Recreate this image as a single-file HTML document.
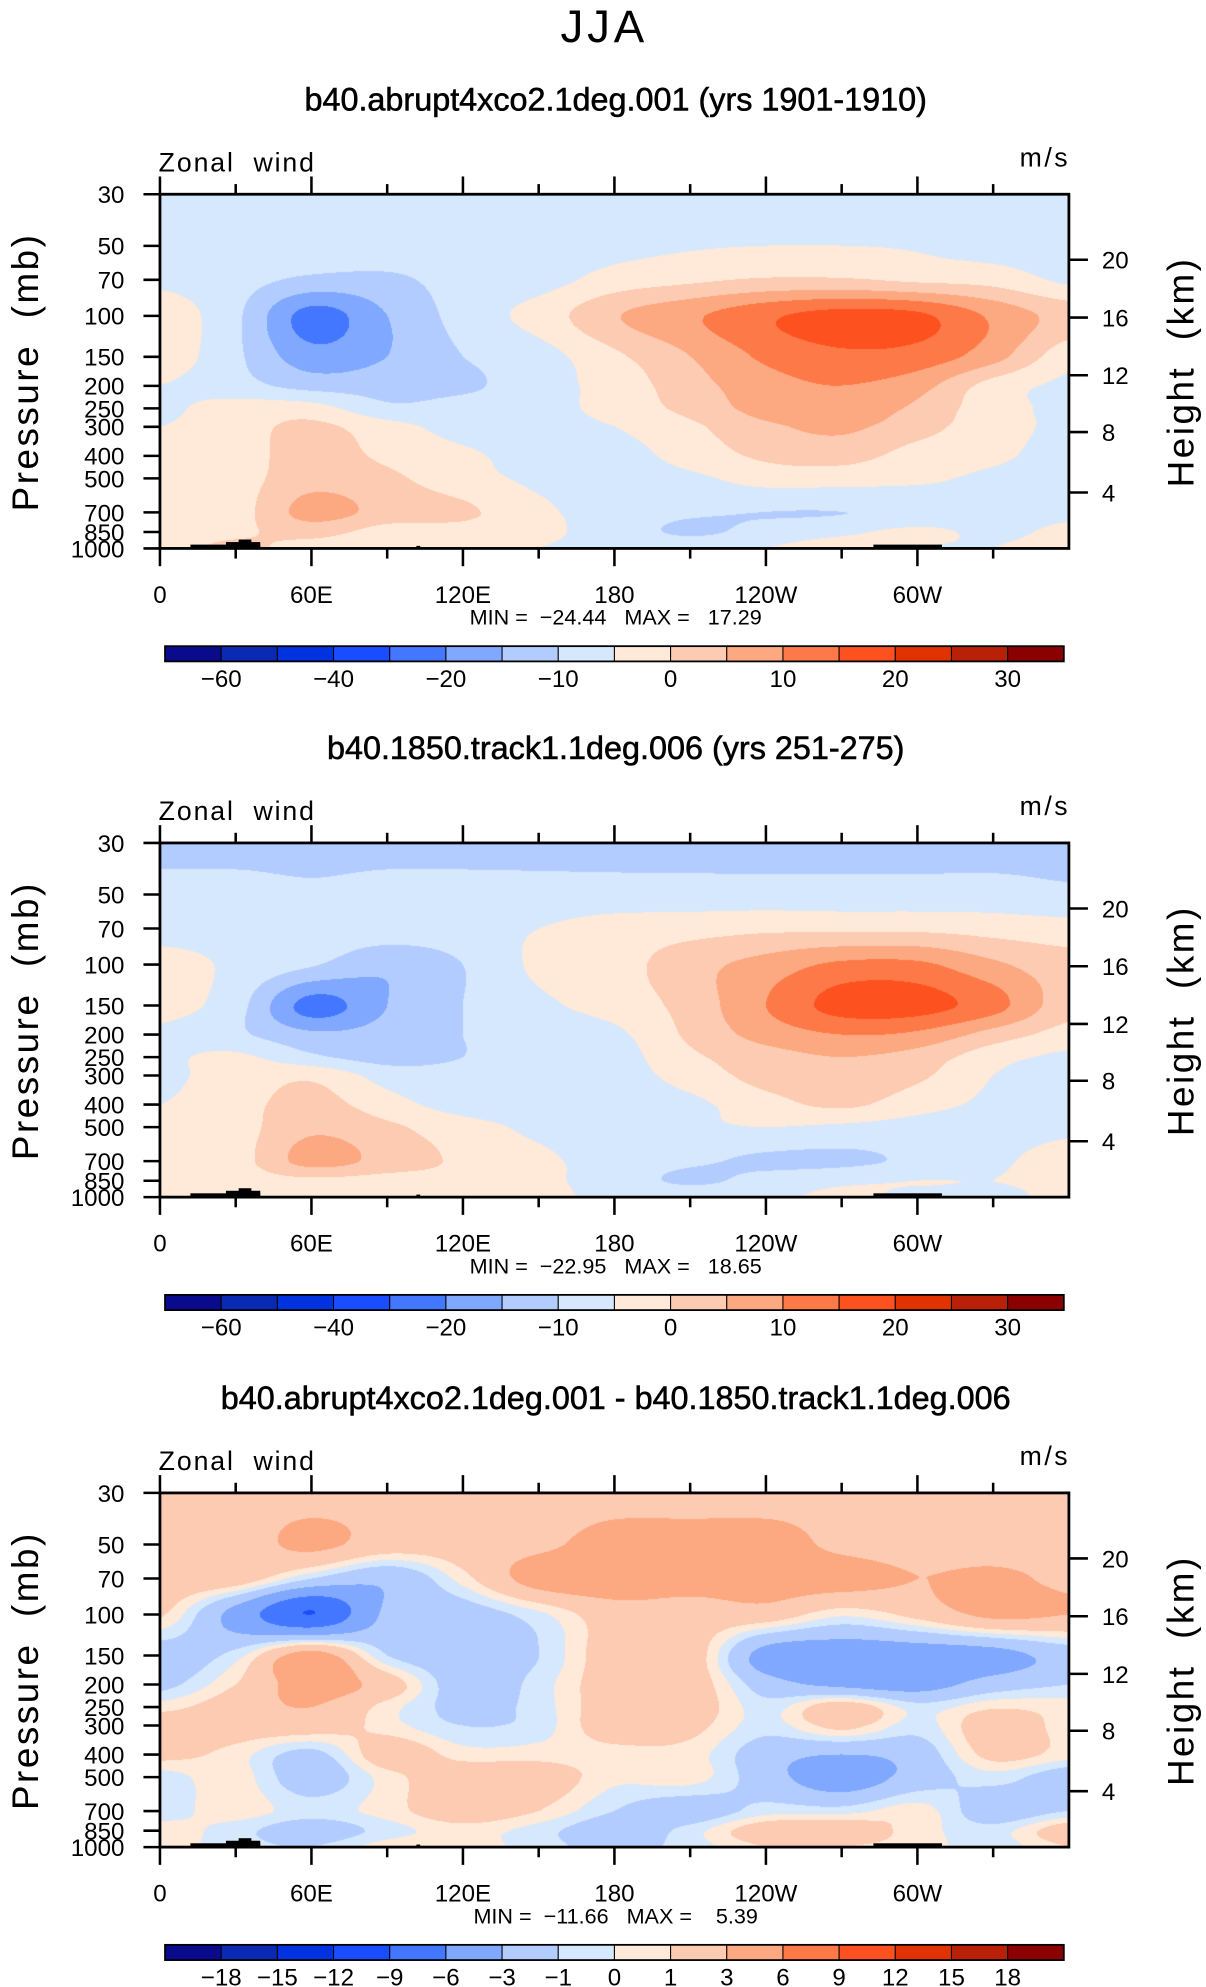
<!DOCTYPE html>
<html><head><meta charset="utf-8">
<style>
html,body{margin:0;padding:0;background:#fff;}
#wrap{position:relative;width:1206px;height:1987px;overflow:hidden;}
canvas{position:absolute;}
svg{position:absolute;left:0;top:0;}
text{font-family:"Liberation Sans",sans-serif;fill:#000;white-space:pre;}
</style></head>
<body>
<div id="wrap">
<canvas id="c1"></canvas>
<canvas id="c2"></canvas>
<canvas id="c3"></canvas>
<svg id="ov" width="1206" height="1987" viewBox="0 0 950 1565.2"></svg>
</div>
<script>
// ---- data ----
const lons = [0,30,60,90,120,150,180,210,240,270,300,330,360];
const pLevels = [30,50,70,100,150,200,250,300,400,500,700,850,1000];
const lonTickLabels = ["0","60E","120E","180","120W","60W"];
const lonTickValues = [0,60,120,180,240,300];
const heightTicks = [20,16,12,8,4];
const heightTickP = [57.4,101.7,180,316,520];

const levels12 = [-60,-50,-40,-30,-20,-15,-10,-5,0,5,10,15,20,25,30];
const barLabels12 = ["-60","-40","-20","-10","0","10","20","30"];
const levels3 = [-18,-15,-12,-9,-6,-3,-1,0,1,3,6,9,12,15,18];
const barLabels3 = ["-18","-15","-12","-9","-6","-3","-1","0","1","3","6","9","12","15","18"];
const palette = ["#0a0a8c","#0a2ab4","#0033e0","#1a4dff","#4477ff","#80a8ff","#b3ccff","#d6e8fd","#ffe9d8","#fdcab2","#fca880","#fd7a48","#fe5120","#e03300","#b82008","#8b0000"];

// rows = pressure levels, cols = longitudes
const field1 = [
[-7,-7,-7,-7,-7,-7,-7,-7,-7,-7,-7,-7,-7],
[-7,-7,-7,-7,-7,-7,-6.5,-5.5,-5,-5,-5.5,-7,-7],
[-6,-8,-11,-11,-8,-7,-3,-1,0.5,0.5,-1,-2,-6],
[-2,-9,-22,-15,-8,-3,4.5,9,14,17,16,9,3],
[-2,-9,-18,-15,-10,-7,-1,5,11,14,13,7,-3],
[-5,-8,-12,-12,-11,-7,-3,3,8,10,7,-2,-6],
[-6,-3,-3,-9,-8,-7,-3,1.5,7,8,4,-3,-6],
[-5,-2,1,-3,-7,-7,-5,-1,4,6,2,-3,-6],
[-3,-2,2,-1,-4,-7,-7,-3,1,2,-2,-4,-7],
[-3,-2,3,1,-3,-6,-7,-6,-3,-3,-4,-6,-7],
[-3,-2,7,3,1,-4,-7,-9,-10,-10,-9,-7,-6],
[-2,-1,2,-2,-2,-4,-7,-11,-8,-6,-4,-6,-4],
[-2,1,-2,-3,-4,-5,-6,-6,-5,-3,-5,-5,-3]];
const field2 = [
[-12,-12,-12,-12,-12,-12,-12,-12,-12,-12,-12,-12,-12],
[-8,-8,-9,-8,-8,-8,-8,-8,-8,-8,-8,-8,-9],
[-7,-7,-7,-7,-7,-5,-3,-2,-1,-1,-1,-2,-3],
[-3,-6,-9.5,-14,-10,-4,-2,3,7,11,11,6,2],
[-3,-8,-22,-15,-10,-6,-3,2,10,17,17,12,2],
[-6,-9,-14,-13,-10,-7,-6,1,7,10,9,3,-2],
[-6,-4,-9,-12,-10,-7,-7,-1,3,5,3,-3,-6],
[-6,-3,-1,-7,-8,-7,-7,-3,2,4,1,-5,-7],
[-5,-2,2,-3,-7,-7,-7,-6,-2,1,-3,-6,-7],
[-3,-2,4,1,-3,-6,-7,-6,-5,-6,-7,-7,-6],
[-3,-2,7,3,-1,-4,-7,-9,-11,-11,-9,-6,-3],
[-2,-2,-1,-2,-2,-4,-7,-11,-8,-6,-5,-5,-4],
[-3,0,-2,-4,-4,-4,-6,-6,-6,-4,-6,-6,-4]];
const field3 = [
[2,2,2,2,2,2,2,2,2,2.5,2.5,2.5,2],
[2,2,3.5,2,2,2.5,4,4,4,2.5,2,2,2],
[2,2,-1,-2.5,0.5,4,4.5,4,4,4,3,3.5,2.5],
[1.2,-4,-9,-2.5,-2,-0.3,2,2,2,0.2,1.5,3.5,3],
[-2,-0.5,4,-1,-2,-1,2,2,-4,-4.5,-4.5,-4,-2],
[-1.5,1,4,2,-2,-0.5,2,2,-2,-3.5,-4,-2,-1],
[0.5,2,3,0.5,-1.5,-0.5,2,2,-0.5,2,-0.5,0.8,0.5],
[2,2,2,0.5,-1,-0.5,2,1.5,-0.5,1.5,-0.5,2,0.5],
[1.5,0.5,-1.5,2,0.5,0.5,0.5,0.5,-2,-3,-2,1.5,0.5],
[-0.5,0.5,-2,0.5,2,2,0.3,0.5,-2,-4.5,-2,-0.5,-2],
[-0.5,0.5,-0.5,0.5,2,1,-1,-2,-0.5,-0.5,0.5,-2,-1],
[0.5,-0.5,-2,-0.5,0.5,-0.5,-2,-0.5,2,2,0.5,-0.5,2],
[0.5,-0.5,-1,0.5,0.5,-0.5,-1.5,-0.5,1,1,0.5,-0.5,1]];

const S = 1206/950;
const X0 = 126, X1 = 842;
const panelTops = [153,664,1176];
const PH = 279;
function xOf(lon){return X0 + (X1-X0)*lon/360;}
function yOf(p,top){return top + PH*Math.log(p/30)/Math.log(1000/30);}

function hexRgb(h){return [parseInt(h.slice(1,3),16),parseInt(h.slice(3,5),16),parseInt(h.slice(5,7),16)];}
function cr(p0,p1,p2,p3,t){return 0.5*((2*p1)+(-p0+p2)*t+(2*p0-5*p1+4*p2-p3)*t*t+(-p0+3*p1-3*p2+p3)*t*t*t);}
function interp1(arr,coord,pos){
  let n=coord.length,i=0;
  while(i<n-2&&pos>coord[i+1])i++;
  const t=Math.max(0,Math.min(1,(pos-coord[i])/(coord[i+1]-coord[i])));
  const a=arr[Math.max(0,i-1)],b=arr[i],c=arr[i+1],d=arr[Math.min(n-1,i+2)];
  return cr(a,b,c,d,t);
}
function drawField(id,field,lev,top){
  const cv=document.getElementById(id);
  const L=Math.round(X0*S),T=Math.round(top*S),W=Math.round(X1*S)-L,H=Math.round((top+PH)*S)-T;
  cv.style.left=L+'px';cv.style.top=T+'px';cv.width=W;cv.height=H;
  const ctx=cv.getContext('2d');const img=ctx.createImageData(W,H);
  const lp=pLevels.map(p=>Math.log(p));
  const rowsAtX=[];
  for(let x=0;x<W;x++){const lon=360*(x+0.5)/W;rowsAtX.push(field.map(r=>interp1(r,lons,lon)));}
  const rgb=palette.map(hexRgb);
  for(let y=0;y<H;y++){
    const lpv=Math.log(30)+(Math.log(1000)-Math.log(30))*(y+0.5)/H;
    for(let x=0;x<W;x++){
      const v=interp1(rowsAtX[x],lp,lpv);
      let i=0;while(i<lev.length&&v>=lev[i])i++;
      const c=rgb[i];const k=(y*W+x)*4;
      img.data[k]=c[0];img.data[k+1]=c[1];img.data[k+2]=c[2];img.data[k+3]=255;
    }
  }
  ctx.putImageData(img,0,0);
}
drawField('c1',field1,levels12,panelTops[0]);
drawField('c2',field2,levels12,panelTops[1]);
drawField('c3',field3,levels3,panelTops[2]);

const svg=document.getElementById('ov');
const NS='http://www.w3.org/2000/svg';
function el(tag,attrs,parent){const e=document.createElementNS(NS,tag);for(const k in attrs)e.setAttribute(k,attrs[k]);(parent||svg).appendChild(e);return e;}
function txt(s,x,y,size,anchor,parent,extra){const t=el('text',Object.assign({x:x,y:y,'font-size':size,'text-anchor':anchor||'middle'},extra||{}),parent);t.textContent=s;return t;}

let t0=txt("JJA",476,33,36,'middle',svg,{'letter-spacing':'3','fill':'#222'});



const subtitles=["b40.abrupt4xco2.1deg.001 (yrs 1901-1910)","b40.1850.track1.1deg.006 (yrs 251-275)","b40.abrupt4xco2.1deg.001 - b40.1850.track1.1deg.006"];
const minmax=["MIN =  \u221224.44   MAX =   17.29","MIN =  \u221222.95   MAX =   18.65","MIN =  \u221211.66   MAX =    5.39"];
const pTickLabels=["30","50","70","100","150","200","250","300","400","500","700","850","1000"];

panelTops.forEach((top,pi)=>{
  const g=el('g',{});
  
  
  const st=txt(subtitles[pi],485,top-66,25.5,'middle',g,{'stroke':'#000','stroke-width':'0.45'});
  
  
  const zw=txt("Zonal  wind",125,top-18,21,'start',g,{'letter-spacing':'1.5'});
  
  
  const un=txt("m/s",843,top-22,21,'end',g,{'letter-spacing':'2'});
  
  
  const topo=[[150,top+PH-3,55,3],[178,top+PH-5,27,5],[188,top+PH-7,10,7],[688,top+PH-3,54,3],[328,top+PH-2,3,2]];
  topo.forEach(r=>{const b=el('rect',{x:r[0],y:r[1],width:r[2],height:r[3],fill:'#000'},g);
    
    });
  const fr=el('rect',{x:X0,y:top,width:X1-X0,height:PH,fill:'none',stroke:'#000','stroke-width':2.2},g);
  
  
  for(let lon=0;lon<360;lon+=30){
    const major=lon%60===0;const len=major?14:8;const x=xOf(lon);
    el('line',{x1:x,y1:top,x2:x,y2:top-len,stroke:'#000','stroke-width':2},g);
    el('line',{x1:x,y1:top+PH,x2:x,y2:top+PH+len,stroke:'#000','stroke-width':2},g);
  }
  lonTickValues.forEach((v,i)=>{const l=txt(lonTickLabels[i],xOf(v),top+PH+43,19,'middle',g);
    
    });
  const mm=txt(minmax[pi],485,top+PH+60,17,'middle',g);
  
  
  pLevels.forEach((p,i)=>{const y=yOf(p,top);
    el('line',{x1:X0,y1:y,x2:X0-13,y2:y,stroke:'#000','stroke-width':2},g);
    const l=txt(pTickLabels[i],98,y+7,19,'end',g);
    
    });
  const yt=txt("Pressure  (mb)",0,0,29,'middle',g,{transform:`translate(30,${top+140}) rotate(-90)`,'letter-spacing':'2'});
  
  
  heightTicks.forEach((h,i)=>{const y=yOf(heightTickP[i],top)+(i===4?8:0);
    el('line',{x1:X1,y1:y,x2:X1+15,y2:y,stroke:'#000','stroke-width':2},g);
    const l=txt(String(h),868,y+7,19,'start',g);
    
    });
  const ht=txt("Height  (km)",0,0,29,'middle',g,{transform:`translate(940,${top+140}) rotate(-90)`,'letter-spacing':'2'});
  
  
  const cb=el('g',{},g);
  
  
  const cbx=130,cbw=708,cby=top+356,cbh=12,bw=cbw/16;
  palette.forEach((c,i)=>{const r=el('rect',{x:cbx+i*bw,y:cby,width:bw,height:cbh,fill:c,stroke:'#000','stroke-width':0.8},cb);
    
    });
  el('rect',{x:cbx,y:cby,width:cbw,height:cbh,fill:'none',stroke:'#000','stroke-width':1.4},cb);
  if(pi<2){
    barLabels12.forEach((s,i)=>{const l=txt(s.replace('-','\u2212'),cbx+(2*i+1)*bw,cby+32,19,'middle',cb);
      
      });
  } else {
    barLabels3.forEach((s,i)=>{const l=txt(s.replace('-','\u2212'),cbx+(i+1)*bw,cby+32,19,'middle',cb);
      
      });
  }
});
</script>
</body></html>
